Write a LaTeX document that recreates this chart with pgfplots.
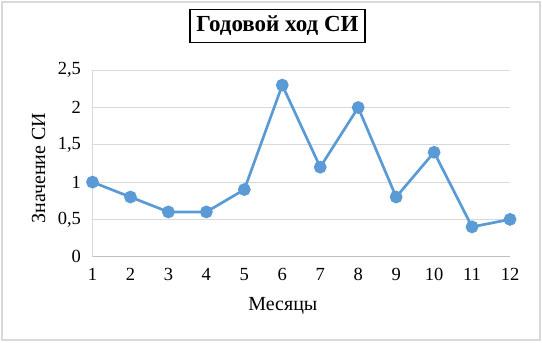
\documentclass[border=0pt]{standalone}
\usepackage{pgfplots}
\pgfplotsset{compat=1.18}
\usepackage{fontspec}
\setmainfont{Liberation Serif}
\definecolor{lineblue}{RGB}{91,155,213}
\definecolor{gridgray}{RGB}{217,217,217}
\definecolor{axgray}{RGB}{191,191,191}
\begin{document}
\begin{tikzpicture}[x=1bp,y=1bp]
\path[use as bounding box] (0,0) rectangle (542,342);
\draw[draw=gridgray, line width=1.5bp] (2,2) rectangle (540,340);
\node[draw=black, line width=1.6bp, minimum width=175bp, minimum height=33bp, inner sep=0pt, font=\fontsize{23bp}{25bp}\selectfont\bfseries] at (277.5,316) {Годовой ход СИ};
\begin{axis}[
  at={(92.5bp,85.3bp)}, anchor=south west,
  scale only axis, width=417.5bp, height=186.5bp,
  xmin=1, xmax=12, ymin=0, ymax=2.5,
  xtick={1,...,12}, ytick={0,0.5,1,1.5,2,2.5},
  yticklabels={0,{0,5},1,{1,5},2,{2,5}},
  axis lines=left, axis line style={-, draw=axgray, line width=1bp},
  y axis line style={draw=gridgray},
  ymajorgrids, grid style={draw=gridgray, line width=1bp},
  major tick length=0pt,
  tick label style={font=\fontsize{18.5bp}{20bp}\selectfont},
  /pgf/number format/assume math mode=true,
  xticklabel style={yshift=-8bp},
  yticklabel style={xshift=-8bp},
  xlabel={Месяцы}, ylabel={Значение СИ},
  label style={font=\fontsize{20bp}{22bp}\selectfont},
  xlabel style={at={(axis description cs:0.456,-0.263)}, anchor=center},
  ylabel style={at={(axis description cs:-0.129,0.4745)}, anchor=center},
  clip=false,
]
\addplot[color=lineblue, line width=2.7bp, mark=*, mark size=5bp, mark options={fill=lineblue, draw=none}]
coordinates {(1,1) (2,0.8) (3,0.6) (4,0.6) (5,0.9) (6,2.3) (7,1.2) (8,2.0) (9,0.8) (10,1.4) (11,0.4) (12,0.5)};
\end{axis}
\end{tikzpicture}
\end{document}
